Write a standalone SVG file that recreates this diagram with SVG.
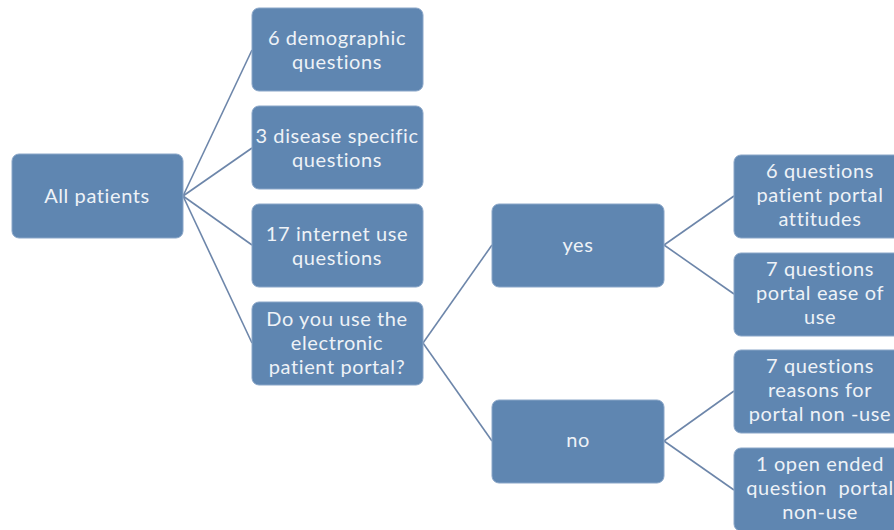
<svg xmlns="http://www.w3.org/2000/svg" width="894" height="530" viewBox="0 0 894 530">
<style>
.box{fill:#5f86b1;stroke:#8aa6c8;stroke-width:1}
.t{font-family:Lato,"Open Sans","Liberation Sans",sans-serif;font-size:20px;letter-spacing:0.6px;fill:#eef2f7;text-anchor:middle}
.c{stroke:#6d86aa;stroke-width:1.6;fill:none}
</style>
<rect width="894" height="530" fill="#ffffff"/>
<g id="connectors">
<line class="c" x1="183" y1="196" x2="252" y2="50"/>
<line class="c" x1="183" y1="196" x2="252" y2="148"/>
<line class="c" x1="183" y1="196" x2="252" y2="245"/>
<line class="c" x1="183" y1="196" x2="252" y2="343"/>
<line class="c" x1="423" y1="343" x2="492" y2="245"/>
<line class="c" x1="423" y1="343" x2="492" y2="441"/>
<line class="c" x1="664" y1="245" x2="734" y2="196"/>
<line class="c" x1="664" y1="245" x2="734" y2="294"/>
<line class="c" x1="664" y1="441" x2="734" y2="391"/>
<line class="c" x1="664" y1="441" x2="734" y2="490"/>
</g>
<g id="all"><rect class="box" x="12" y="154" width="171" height="84" rx="7"/><text class="t" x="97" y="203">All patients</text></g>
<g id="demo"><rect class="box" x="252" y="8" width="171" height="83" rx="7"/><text class="t" x="337" y="45">6 demographic</text><text class="t" x="337" y="69">questions</text></g>
<g id="disease"><rect class="box" x="252" y="106" width="171" height="83" rx="7"/><text class="t" x="337" y="143">3 disease specific</text><text class="t" x="337" y="167">questions</text></g>
<g id="internet"><rect class="box" x="252" y="204" width="171" height="83" rx="7"/><text class="t" x="337" y="241">17 internet use</text><text class="t" x="337" y="265">questions</text></g>
<g id="portal"><rect class="box" x="252" y="302" width="171" height="83" rx="7"/><text class="t" x="337" y="326">Do you use the</text><text class="t" x="337" y="350">electronic</text><text class="t" x="337" y="374">patient portal?</text></g>
<g id="yes"><rect class="box" x="492" y="204" width="172" height="83" rx="7"/><text class="t" x="578" y="252">yes</text></g>
<g id="no"><rect class="box" x="492" y="400" width="172" height="83" rx="7"/><text class="t" x="578" y="447">no</text></g>
<g id="attitudes"><rect class="box" x="734" y="155" width="172" height="83" rx="7"/><text class="t" x="820" y="178">6 questions</text><text class="t" x="820" y="202">patient portal</text><text class="t" x="820" y="226">attitudes</text></g>
<g id="ease"><rect class="box" x="734" y="253" width="172" height="83" rx="7"/><text class="t" x="820" y="276">7 questions</text><text class="t" x="820" y="300">portal ease of</text><text class="t" x="820" y="324">use</text></g>
<g id="reasons"><rect class="box" x="734" y="350" width="172" height="83" rx="7"/><text class="t" x="820" y="373">7 questions</text><text class="t" x="820" y="397">reasons for</text><text class="t" x="820" y="421">portal non -use</text></g>
<g id="open"><rect class="box" x="734" y="448" width="172" height="83" rx="7"/><text class="t" x="820" y="471">1 open ended</text><text class="t" x="820" y="495">question&#160; portal</text><text class="t" x="820" y="519">non-use</text></g>
</svg>
